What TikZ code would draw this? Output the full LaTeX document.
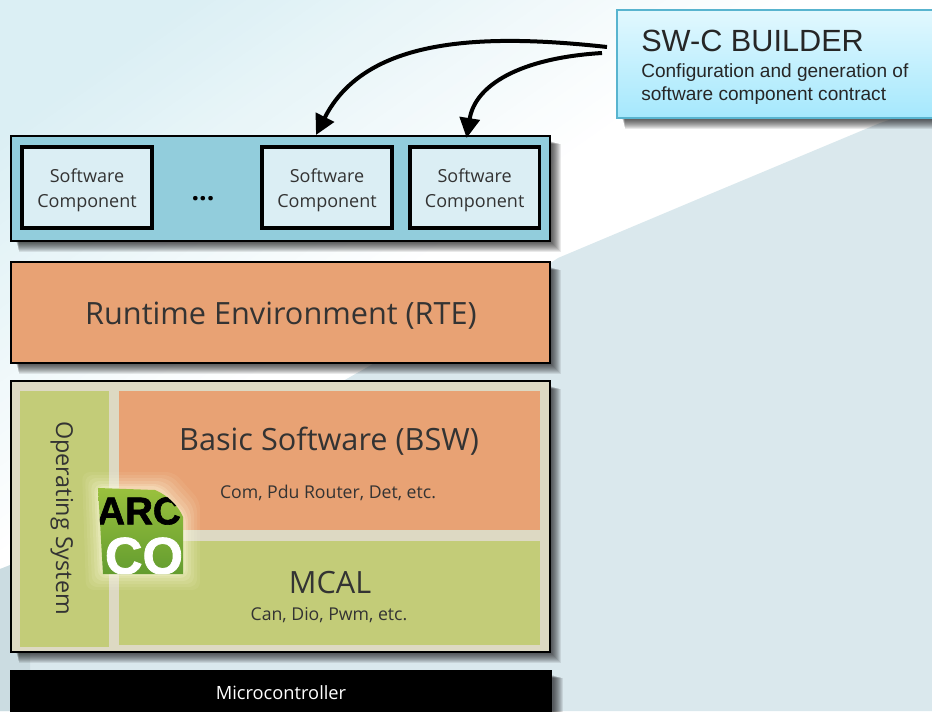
\documentclass[tikz,border=0pt]{standalone}
\usepackage{fontspec}
\setmainfont{Open Sans}
\newfontfamily\arialf{Liberation Sans}
\newfontfamily\logof[FakeBold=1.6]{Liberation Sans Bold}
\usetikzlibrary{calc,arrows.meta}
\definecolor{bgbase}{HTML}{DAE8ED}
\definecolor{bgdark}{HTML}{CBDCE1}
\definecolor{bgtop}{HTML}{DBEFF4}
\definecolor{swcblue}{HTML}{92CDDC}
\definecolor{scfill}{HTML}{DBEEF4}
\definecolor{orangeb}{HTML}{E8A274}
\definecolor{tanb}{HTML}{DDD9C3}
\definecolor{greenb}{HTML}{C3CC78}
\definecolor{ink}{HTML}{333333}
\definecolor{logotop}{HTML}{9CC23E}
\definecolor{logobot}{HTML}{5F9A2E}
\definecolor{buildtop}{HTML}{E2F8FE}
\definecolor{buildbot}{HTML}{A5E8FD}
\definecolor{buildline}{HTML}{58B4CF}
\tikzset{
  x=0.75pt,y=-0.75pt,
  layer/.style={draw=black,line width=1.1pt,anchor=north west,inner sep=0pt,outer sep=0pt},
  compbox/.style={draw=black,line width=2.4pt,fill=scfill,anchor=north west,inner sep=0pt,outer sep=0pt,
    align=center,text=ink,font=\fontsize{13.5}{18.6}\selectfont},
  flat/.style={anchor=north west,inner sep=0pt,outer sep=0pt},
  label/.style={text=ink,inner sep=0pt},
  bigtext/.style={label,font=\fontsize{23}{27}\selectfont},
  smalltext/.style={label,font=\fontsize{13.25}{16}\selectfont},
  curvearrow/.style={line width=3pt,black,-{Triangle[length=15pt,width=15pt]}},
  softshadow/.style={fill=black,opacity=0.085,draw=none}
}
\newcommand{\dropshadow}[4]{%
  \foreach \d in {0,...,9}{
    \fill[softshadow] (#1+8-\d*0.3,#2+8-\d*0.3) rectangle (#3+11-\d,#4+11-\d);
  }}
\begin{document}
\begin{tikzpicture}
\useasboundingbox (0,0) rectangle (932,711);
% background
\fill[white] (0,0) rectangle (932,711);
\foreach \s in {800,785,...,200}{
  \pgfmathsetmacro{\mixv}{(800-\s)/6}
  \fill[bgtop!\mixv!white] (0,0) -- (\s,0) -- (0,0.7*\s) -- cycle;
}
\fill[bgbase] (932,110) -- (895,118) -- (880,123) -- (703,197) -- (558,258) -- (552,262) -- (20,565) -- (0,569) -- (0,711) -- (932,711) -- cycle;
\fill[bgdark] (0,569) -- (10,565) -- (30,560) -- (30,711) -- (0,711) -- cycle;
% shadows
\dropshadow{11}{136}{550}{241}
\dropshadow{11}{262}{550}{363}
\dropshadow{11}{381}{550}{652}
\dropshadow{10}{670}{552}{720}
\dropshadow{617}{10}{940}{118}
% software component layer
\node[layer,fill=swcblue,minimum width=404.25pt,minimum height=78.75pt] (swc) at (11,136) {};
\node[compbox,minimum width=97.5pt,minimum height=60.75pt] (sca) at (22,147) {\rule{0pt}{14pt}Software\\Component};
\node[compbox,minimum width=97.5pt,minimum height=60.75pt] (scb) at (262,147) {\rule{0pt}{14pt}Software\\Component};
\node[compbox,minimum width=97pt,minimum height=60.75pt] (scc) at (410,147) {\rule{0pt}{14pt}Software\\Component};
\node[text=black,inner sep=0pt,font=\bfseries\fontsize{20}{20}\selectfont] (dots) at (203,199) {...};
% RTE
\node[layer,fill=orangeb,minimum width=404.25pt,minimum height=75.75pt] (rte) at (11,262) {};
\node[bigtext] (rtet) at (281,316) {Runtime Environment (RTE)};
% platform
\node[layer,fill=tanb,minimum width=404.25pt,minimum height=203.25pt] (plat) at (11,381) {};
\node[flat,fill=greenb,minimum width=66.75pt,minimum height=192pt] (os) at (20,391) {};
\node[label,rotate=-90,font=\fontsize{17.5}{20}\selectfont] (oslabel) at (62,518) {Operating System};
\node[flat,fill=orangeb,minimum width=315.75pt,minimum height=104.25pt] (bsw) at (119,391) {};
\node[bigtext] (bswt) at (329,441) {Basic Software (BSW)};
\node[smalltext] (bsws) at (328,493) {Com, Pdu Router, Det, etc.};
\node[flat,fill=greenb,minimum width=315.75pt,minimum height=78pt] (mcal) at (119,541) {};
\node[bigtext] (mcalt) at (330,583) {MCAL};
\node[smalltext] (mcals) at (329,615) {Can, Dio, Pwm, etc.};
% microcontroller
\node[flat,fill=black,minimum width=406.5pt,minimum height=32pt] (mcu) at (10,670) {};
\node[text=white,inner sep=0pt,font=\fontsize{13.7}{16}\selectfont] (mcut) at (281,693) {Microcontroller};
% logo glow
\foreach \g/\o in {16/0.07,13/0.09,10/0.11,7/0.14,4/0.18,2/0.22}{
  \fill[white!88!yellow,opacity=\o,rounded corners=6pt] (98-\g,488-\g) -- (158+\g,488-\g) -- (184+\g,517-\g) -- (184+\g,574+\g) -- (102-\g,574+\g) -- cycle;
}
% logo
\begin{scope}
\clip (98,488) -- (155,490) .. controls (167,495) and (178,505) .. (183,517) -- (183,574) -- (103,574) -- cycle;
\shade[top color=logotop,bottom color=logobot] (95,485) rectangle (190,580);
\node[inner sep=0pt,text=black,font=\logof\fontsize{29}{29}\selectfont] (arc) at (139,511) {ARC};
\node[inner sep=0pt,text=white,font=\logof\fontsize{39}{39}\selectfont] (co) at (144,556) {CO};
\end{scope}
% builder
\node[layer,draw=buildline,line width=1.2pt,top color=buildtop,bottom color=buildbot,
  minimum width=240pt,minimum height=81pt] (builder) at (617,10) {};
\node[anchor=west,inner sep=0pt,font=\arialf\fontsize{23}{26}\selectfont,text=black!85] (bt) at (641,41) {SW-C BUILDER};
\node[anchor=north west,inner sep=0pt,align=left,font=\arialf\fontsize{14.3}{17.4}\selectfont,text=black!85] (bs) at (641,63) {Configuration and generation of\\software component contract};
% connectors
\draw[curvearrow] ($(builder.north west)+(-10,37)$) .. controls (480,33) and (365,38) .. ($(scb.north)+(-11,-12)$);
\draw[curvearrow] ($(builder.north west)+(-15,43)$) .. controls (520,58) and (475,85) .. ($(scc.north)+(-8,-9)$);
\end{tikzpicture}
\end{document}
